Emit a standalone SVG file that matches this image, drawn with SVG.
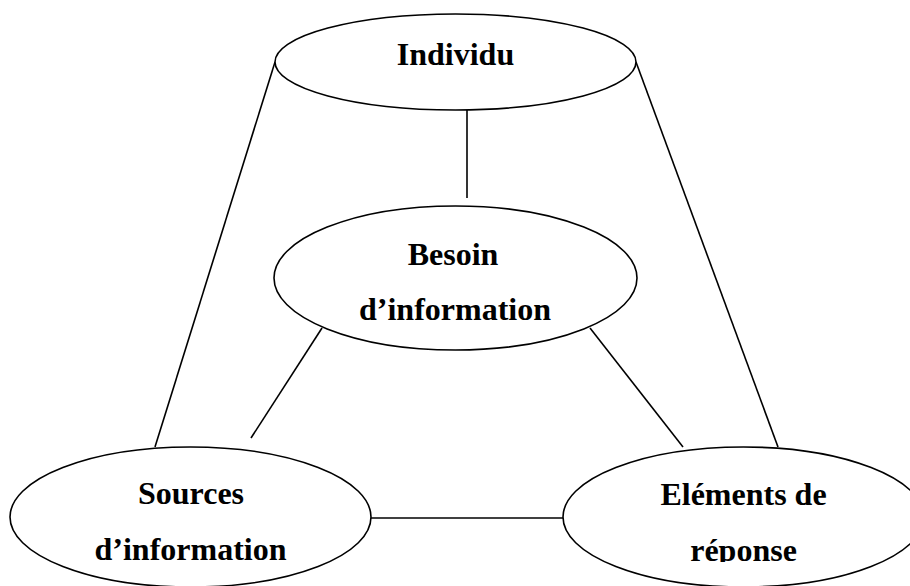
<svg xmlns="http://www.w3.org/2000/svg" width="910" height="586" viewBox="0 0 910 586">
<style>
.node{fill:#fff;stroke:#000;stroke-width:1.6}
.lbl{font-family:"Liberation Serif","Times New Roman",serif;font-weight:bold;font-size:32px;fill:#000;text-anchor:middle}
.conn line{stroke:#000;stroke-width:1.6;fill:none}
</style>
<defs>
<clipPath id="clipRep"><rect x="600" y="520" width="300" height="42"/></clipPath>
</defs>
<rect width="910" height="586" fill="#fff"/>
<g id="connectors" class="conn">
<line x1="275" y1="62" x2="155" y2="447"/>
<line x1="636" y1="62" x2="778" y2="447"/>
<line x1="467" y1="110" x2="467" y2="198"/>
<line x1="322" y1="328" x2="251" y2="438"/>
<line x1="590" y1="328" x2="683" y2="447"/>
<line x1="371" y1="518" x2="563" y2="518"/>
</g>
<g id="individu">
<ellipse class="node" cx="455.5" cy="62" rx="180.5" ry="48"/>
<text class="lbl" x="455.5" y="65">Individu</text>
</g>
<g id="besoin">
<ellipse class="node" cx="455.5" cy="278" rx="181.5" ry="72"/>
<text class="lbl" x="453" y="265">Besoin</text>
<text class="lbl" x="455" y="320">d’information</text>
</g>
<g id="sources">
<ellipse class="node" cx="190.5" cy="517" rx="180.5" ry="70"/>
<text class="lbl" x="191" y="504">Sources</text>
<text class="lbl" x="190.5" y="560">d’information</text>
</g>
<g id="elements">
<ellipse class="node" cx="743.5" cy="517" rx="180.5" ry="70"/>
<text class="lbl" x="743.5" y="505">Eléments de</text>
<text class="lbl" x="743.5" y="561" clip-path="url(#clipRep)">réponse</text>
</g>
</svg>
